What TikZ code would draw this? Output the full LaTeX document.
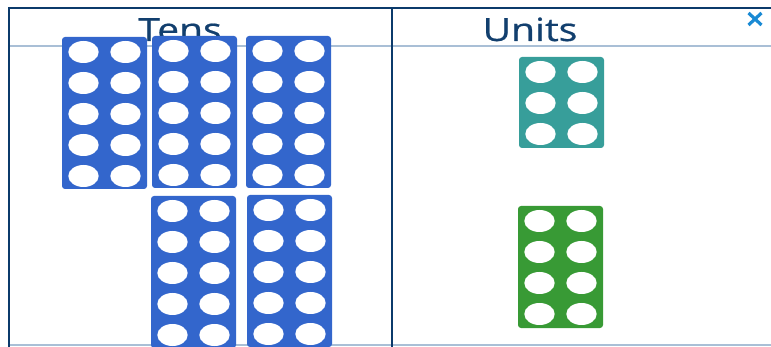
\documentclass[tikz,border=0pt]{standalone}
\usepackage{fontspec}
\setmainfont{Open Sans}
\newfontfamily\headfont{Open Sans}[FakeBold=0.6]
\usetikzlibrary{positioning, calc}

\definecolor{framenavy}{HTML}{0B3A6B}
\definecolor{rulelight}{HTML}{A9BFD6}
\definecolor{headtext}{HTML}{123F6E}
\definecolor{tenblue}{HTML}{3366CC}
\definecolor{unitteal}{HTML}{379E9A}
\definecolor{unitgreen}{HTML}{389A35}
\definecolor{closeblue}{HTML}{1A8AD4}

% white holes of a number rack: rack node, number of rows
\newcommand{\rackholes}[2]{%
  \foreach \r in {1,...,#2} {
    \fill[white] ($(#1.north west)+(21.5,{15+31*(\r-1)})$) ellipse [x radius=15.2pt, y radius=11pt];
    \fill[white] ($(#1.north west)+(63.5,{15+31*(\r-1)})$) ellipse [x radius=15.2pt, y radius=11pt];
  }%
}

\begin{document}
\begin{tikzpicture}[x=1pt, y=-1pt,
    rack/.style={anchor=north west, inner sep=0pt, outer sep=0pt,
      rounded corners=3pt, minimum width=85pt},
    tenrack/.style={rack, fill=tenblue, minimum height=152pt},
    heading/.style={anchor=base, text=headtext, inner sep=0pt,
      font=\headfont\fontsize{32}{32}\selectfont, xscale=1.22, transform shape}]
  \useasboundingbox (0,0) rectangle (771,347);
  \clip (0,0) rectangle (771,347);

  % Table lines
  \draw[rulelight, line width=1.5pt] (9,46) -- (771,46);
  \draw[rulelight, line width=1.5pt] (9,345) -- (771,345);
  \draw[framenavy, line width=1.2pt] (392,8) -- (392,347);
  \draw[framenavy, line width=2pt] (8,8) -- (771,8);
  \draw[framenavy, line width=2.6pt] (9,7) -- (9,347);

  % Headings
  \node[heading] (tens) at (180,41) {Tens};
  \node[heading] (units) at (530,41) {Units};

  % Tens
  \node[tenrack] (t1) at (62,37) {};
  \node[tenrack] (t2) at (152,36) {};
  \node[tenrack] (t3) at (246,36) {};
  \node[tenrack] (t4) at (151,196) {};
  \node[tenrack] (t5) at (247,195) {};
  \foreach \t in {t1,t2,t3,t4,t5} {\rackholes{\t}{5}}

  % Units
  \node[rack, fill=unitteal, minimum height=91pt] (u6) at (519,57) {};
  \node[rack, fill=unitgreen, minimum height=122pt] (u8) at (518,206) {};
  \rackholes{u6}{3}
  \rackholes{u8}{4}

  % Close mark
  \coordinate (close) at (755,19);
  \draw[closeblue, line width=3.2pt] ($(close)+(-6.5,-6)$) -- ($(close)+(6.5,6)$);
  \draw[closeblue, line width=3.2pt] ($(close)+(-6.5,6)$) -- ($(close)+(6.5,-6)$);
\end{tikzpicture}
\end{document}
